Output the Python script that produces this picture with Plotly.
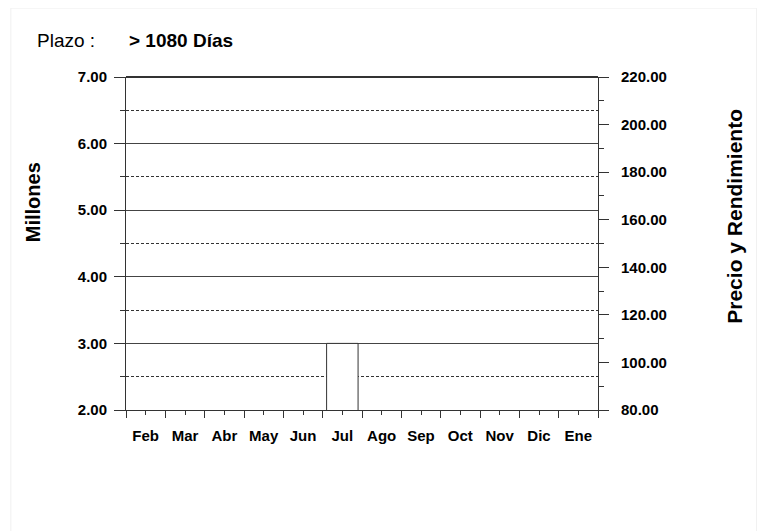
import plotly.graph_objects as go

months = ["Feb", "Mar", "Abr", "May", "Jun", "Jul", "Ago", "Sep", "Oct", "Nov", "Dic", "Ene"]
montos = [None, None, None, None, None, 3.0, None, None, None, None, None, None]
left_range = [2, 7]
right_range = [80, 220]

FONT = "Liberation Sans, Arial, sans-serif"
AXIS = "#333333"

fig = go.Figure()
fig.add_trace(
    go.Bar(
        x=months,
        y=montos,
        width=0.8,
        marker=dict(color="white", line=dict(color=AXIS, width=1)),
        showlegend=False,
    )
)
# empty helper trace so the secondary axes get drawn
fig.add_trace(
    go.Scatter(x=[0], y=[None], xaxis="x2", yaxis="y2", mode="markers",
               showlegend=False, hoverinfo="skip")
)

fig.update_layout(
    width=765,
    height=531,
    margin=dict(l=118, r=175, t=69, b=129),
    paper_bgcolor="white",
    plot_bgcolor="white",
    font=dict(family=FONT, color="black"),
    showlegend=False,
    xaxis=dict(
        type="category",
        tickson="boundaries",
        ticks="outside",
        ticklen=7,
        tickcolor=AXIS,
        showline=True,
        linecolor=AXIS,
        linewidth=1,
        showgrid=False,
        tickfont=dict(size=15, weight="bold"),
        ticklabelstandoff=12,
    ),
    xaxis2=dict(
        overlaying="x",
        anchor="y",
        side="bottom",
        range=[-0.5, len(months) - 0.5],
        tickvals=list(range(len(months))),
        ticks="outside",
        ticklen=4,
        tickcolor=AXIS,
        showticklabels=False,
        showgrid=False,
        zeroline=False,
    ),
    yaxis=dict(
        range=left_range,
        dtick=1,
        tickformat=".2f",
        ticks="outside",
        ticklen=11,
        tickcolor=AXIS,
        showline=True,
        linecolor=AXIS,
        linewidth=1,
        showgrid=True,
        gridcolor="#444444",
        gridwidth=1,
        zeroline=False,
        tickfont=dict(size=15, weight="bold"),
        ticklabelstandoff=4,
        minor=dict(
            dtick=0.5,
            ticks="outside",
            ticklen=5,
            tickcolor=AXIS,
            showgrid=True,
            gridcolor="#333333",
            griddash="3px,2px",
            gridwidth=1,
        ),
    ),
    yaxis2=dict(
        overlaying="y",
        side="right",
        anchor="x",
        range=right_range,
        dtick=20,
        tickformat=".2f",
        ticks="outside",
        ticklen=10,
        tickcolor=AXIS,
        showline=True,
        linecolor=AXIS,
        linewidth=1,
        showgrid=False,
        zeroline=False,
        tickfont=dict(size=15, weight="bold"),
        ticklabelstandoff=9,
        minor=dict(dtick=10, ticks="outside", ticklen=5, tickcolor=AXIS, showgrid=False),
    ),
    annotations=[
        dict(
            text="Plazo :", xref="paper", yref="paper", x=-0.193, y=1.11,
            xanchor="left", yanchor="middle", showarrow=False,
            font=dict(size=19, family=FONT),
        ),
        dict(
            text="> 1080 Días", xref="paper", yref="paper", x=0.003, y=1.11,
            xanchor="left", yanchor="middle", showarrow=False,
            font=dict(size=19, family=FONT, weight="bold"),
        ),
        dict(
            text="Millones", xref="paper", yref="paper", x=-0.197, y=0.624,
            xanchor="center", yanchor="middle", textangle=-90, showarrow=False,
            font=dict(size=20, family=FONT, weight="bold"),
        ),
        dict(
            text="Precio y Rendimiento", xref="paper", yref="paper", x=1.29, y=0.583,
            xanchor="center", yanchor="middle", textangle=-90, showarrow=False,
            font=dict(size=21, family=FONT, weight="bold"),
        ),
    ],
    shapes=[
        dict(
            type="path", xref="paper", yref="paper",
            path="M -0.244,-0.4 L -0.244,1.207 L 1.336,1.207 L 1.336,-0.4",
            line=dict(color="#f0f0f0", width=1),
        ),
        dict(
            type="line", xref="paper", yref="paper", x0=0, x1=1, y0=1, y1=1,
            line=dict(color=AXIS, width=2),
        ),
    ],
)

fig.write_html("out.html")
